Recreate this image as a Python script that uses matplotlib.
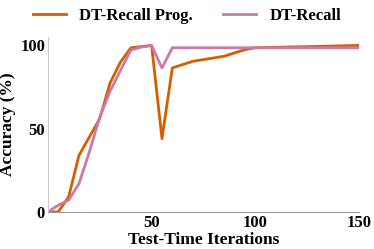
import matplotlib
matplotlib.use("Agg")
import matplotlib.pyplot as plt

# Values
iters_prog = [0, 5, 10, 15, 20, 25, 30, 35, 40, 45, 50, 55, 60, 70, 85, 95, 100, 150]
acc_prog = [0, 0, 9, 34, 45, 56, 77.5, 90, 98.6, 99.3, 100, 44, 86.5, 90.5, 93.5, 97.5, 98.6, 100]

iters_recall = [0, 5, 10, 15, 20, 25, 30, 35, 40, 45, 50, 55, 60, 150]
acc_recall = [0, 4, 7, 17, 36, 57, 72.5, 85, 97.2, 99, 100, 86.5, 98.6, 98.6]

ORANGE = "#d55e00"
PINK = "#cc79a7"

plt.rcParams["font.family"] = ["Liberation Serif", "DejaVu Serif"]
plt.rcParams["font.weight"] = "bold"

fig = plt.figure(figsize=(3.74, 2.49), dpi=100)
ax = fig.add_axes([0.128, 0.149, 0.832, 0.702])

ax.plot(iters_prog, acc_prog, color=ORANGE, lw=2, label="DT-Recall Prog.")
ax.plot(iters_recall, acc_recall, color=PINK, lw=2, label="DT-Recall")

ax.set_xlim(0, 150)
ax.set_ylim(0, 105)
ax.set_xticks([50, 100, 150])
ax.set_yticks([0, 50, 100])
ax.tick_params(length=0, labelsize=12, pad=2)
for lab in ax.get_xticklabels() + ax.get_yticklabels():
    lab.set_fontweight("bold")

ax.spines["top"].set_visible(False)
ax.spines["right"].set_visible(False)
ax.spines["left"].set_color("#cccccc")
ax.spines["bottom"].set_color("#999999")

ax.set_xlabel("Test-Time Iterations", fontsize=12.5, fontweight="bold", labelpad=1)
ax.set_ylabel("Accuracy (%)", fontsize=12.5, fontweight="bold", labelpad=3)

fig.legend(loc="upper center", bbox_to_anchor=(0.5, 1.03), ncol=2, frameon=False,
           prop={"weight": "bold", "size": 12}, handlelength=2.0, handletextpad=0.8,
           columnspacing=1.8)

fig.savefig("out.png", dpi=100)
